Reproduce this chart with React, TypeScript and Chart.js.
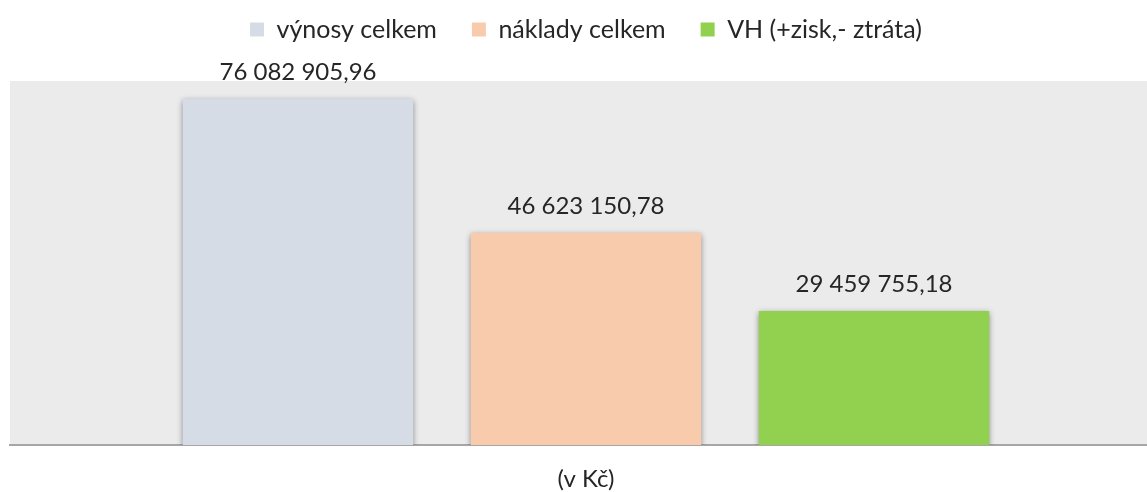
import React, { useEffect, useRef } from "react";
import { Chart, registerables } from "chart.js";

Chart.register(...registerables);

const categories = ["(v Kč)"];
const seriesNames = ["výnosy celkem", "náklady celkem", "VH (+zisk,- ztráta)"];
const seriesValues = [76082905.96, 46623150.78, 29459755.18];
const seriesColors = ["#D6DCE5", "#F8CBAD", "#92D050"];
const yMax = 80000000;

const FONT = "Lato, 'Noto Sans', sans-serif";
const TEXT_COLOR = "#262626";

function formatCz(v: number): string {
  const [intPart, dec] = v.toFixed(2).split(".");
  const withSpaces = intPart.replace(/\B(?=(\d{3})+(?!\d))/g, " ");
  return withSpaces + "," + dec;
}

const plotBg = {
  id: "plotBg",
  beforeDraw(chart: any) {
    const { ctx, chartArea } = chart;
    ctx.save();
    ctx.fillStyle = "#EBEBEB";
    ctx.fillRect(chartArea.left, chartArea.top, chartArea.right - chartArea.left, chartArea.bottom - chartArea.top);
    ctx.restore();
  },
};

const barDecor = {
  id: "barDecor",
  beforeDatasetsDraw(chart: any) {
    const ctx = chart.ctx;
    ctx.save();
    ctx.shadowColor = "rgba(0,0,0,0.45)";
    ctx.shadowBlur = 6;
    ctx.shadowOffsetX = 0;
    ctx.shadowOffsetY = 2;
  },
  afterDatasetsDraw(chart: any) {
    const ctx = chart.ctx;
    ctx.restore();
    ctx.save();
    ctx.font = `24px ${FONT}`;
    ctx.fillStyle = TEXT_COLOR;
    ctx.textAlign = "center";
    ctx.textBaseline = "middle";
    chart.data.datasets.forEach((ds: any, i: number) => {
      const meta = chart.getDatasetMeta(i);
      meta.data.forEach((bar: any, j: number) => {
        ctx.fillText(formatCz(ds.data[j]), bar.x, bar.y - 27);
      });
    });
    ctx.restore();
  },
};

const legendSpace = {
  id: "legendSpace",
  beforeInit(chart: any) {
    const origFit = chart.legend.fit;
    chart.legend.fit = function fit() {
      origFit.bind(chart.legend)();
      this.height = 99;
    };
  },
};

export default function App() {
  const ref = useRef<HTMLCanvasElement>(null);

  useEffect(() => {
    if (!ref.current) return;
    const chart = new Chart(ref.current, {
      type: "bar",
      data: {
        labels: categories,
        datasets: seriesNames.map((name, i) => ({
          label: name,
          data: [seriesValues[i]],
          backgroundColor: seriesColors[i],
          borderWidth: 0,
          categoryPercentage: 0.75,
          barPercentage: 0.8,
        })),
      },
      options: {
        responsive: false,
        animation: false,
        layout: { padding: { left: 10, right: 0, top: -18, bottom: 0 } },
        plugins: {
          legend: {
            position: "top",
            labels: {
              boxWidth: 14,
              boxHeight: 14,
              padding: 35,
              color: TEXT_COLOR,
              font: { family: FONT, size: 25 },
            },
          },
          tooltip: { enabled: false },
        },
        scales: {
          x: {
            grid: { display: false, drawTicks: false },
            border: { display: true, color: "#A6A6A6", width: 2 },
            ticks: { color: TEXT_COLOR, font: { family: FONT, size: 24 }, padding: 20 },
            afterFit: (s: any) => {
              s.height = 47;
            },
          },
          y: {
            display: false,
            min: 0,
            max: yMax,
          },
        },
      },
      plugins: [plotBg, barDecor, legendSpace],
    });
    return () => chart.destroy();
  }, []);

  return (
    <div style={{ position: "absolute", left: 0, top: 0, width: 1147, height: 492, overflow: "hidden", background: "#fff" }}>
      <canvas ref={ref} width={1162} height={492} style={{ display: "block" }} />
    </div>
  );
}
